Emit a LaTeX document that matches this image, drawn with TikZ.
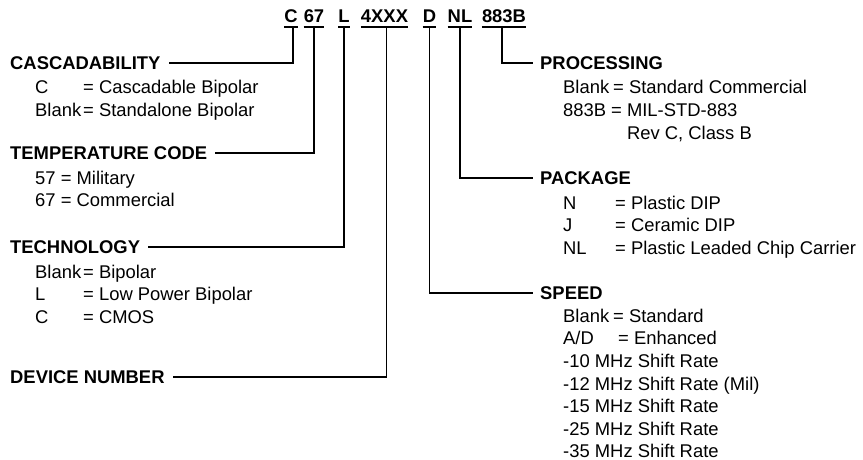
\documentclass[tikz,border=0pt]{standalone}
\usepackage{fontspec}
\setmainfont{Liberation Sans}
\usetikzlibrary{positioning}

% key column, then "= value"
\newcommand{\kv}[3][48pt]{\makebox[#1][l]{#2}= #3}

\tikzset{
  head/.style={font=\bfseries\fontsize{18.4}{22}\selectfont, inner sep=0pt, anchor=west},
  codepart/.style={font=\bfseries\fontsize{18.4}{22}\selectfont, inner sep=0pt, anchor=base},
  item/.style={font=\fontsize{18.4}{22}\selectfont, inner sep=0pt, anchor=base west},
  lead/.style={line width=1.4pt}
}

\begin{document}
\begin{tikzpicture}[x=1pt,y=-1pt]
    \useasboundingbox (0,0) rectangle (863,460);

    % Part number, each field underlined
    \node[codepart] (cc) at (291,23) {C};
    \node[codepart] (ct) at (314,23) {67};
    \node[codepart] (cl) at (344,23) {L};
    \node[codepart] (cd) at (384.5,23) {4XXX};
    \node[codepart] (cs) at (429.5,23) {D};
    \node[codepart] (cp) at (460,23) {NL};
    \node[codepart] (cq) at (504,23) {883B};
    \foreach \n in {cc,ct,cl,cd,cs,cp,cq}
        \draw[lead] ([yshift=-4pt]\n.base west) -- ([yshift=-4pt]\n.base east);

    % Left column
    \node[head] (cas) at (10,63) {CASCADABILITY};
    \node[item] (cas1) at (35,94) {\kv{C}{Cascadable Bipolar}};
    \node[item] (cas2) at (35,116.6) {\kv{Blank}{Standalone Bipolar}};

    \node[head] (tmp) at (10,153) {TEMPERATURE CODE};
    \node[item] (tmp1) at (35,184) {57 = Military};
    \node[item] (tmp2) at (35,206.6) {67 = Commercial};

    \node[head] (tec) at (10,247) {TECHNOLOGY};
    \node[item] (tec1) at (35,278) {\kv{Blank}{Bipolar}};
    \node[item] (tec2) at (35,300.6) {\kv{L}{Low Power Bipolar}};
    \node[item] (tec3) at (35,323.2) {\kv{C}{CMOS}};

    \node[head] (dev) at (10,377) {DEVICE NUMBER};

    % Right column
    \node[head] (pro) at (540,63) {PROCESSING};
    \node[item] (pro1) at (563,94) {\kv[50pt]{Blank}{Standard Commercial}};
    \node[item] (pro2) at (563,116.6) {\kv[48pt]{883B}{MIL-STD-883}};
    \node[item] (pro3) at (563,139.2) {\makebox[48pt]{}\phantom{= }Rev C, Class B};

    \node[head] (pac) at (540,178) {PACKAGE};
    \node[item] (pac1) at (563,209) {\kv[52pt]{N}{Plastic DIP}};
    \node[item] (pac2) at (563,231.6) {\kv[52pt]{J}{Ceramic DIP}};
    \node[item] (pac3) at (563,254.2) {\kv[52pt]{NL}{Plastic Leaded Chip Carrier}};

    \node[head] (spd) at (540,293) {SPEED};
    \node[item] (spd1) at (563,322.2) {\kv[50pt]{Blank}{Standard}};
    \node[item] (spd2) at (563,344.8) {\kv[55pt]{A/D}{Enhanced}};
    \foreach \r [count=\i from 3] in {-10 MHz Shift Rate, -12 MHz Shift Rate (Mil), -15 MHz Shift Rate, -25 MHz Shift Rate, -35 MHz Shift Rate}
        \node[item] (spd\i) at (563,322.2+22.6*\i-22.6) {\r};

    % Leaders from the fields to their headings
    \draw[lead] ([xshift=2pt,yshift=-4pt]cc.base) |- ([xshift=8pt]cas.east);
    \draw[lead] ([yshift=-4pt]ct.base) |- ([xshift=8pt]tmp.east);
    \draw[lead] ([yshift=-4pt]cl.base) |- ([xshift=8pt]tec.east);
    \draw[lead] ([xshift=2pt,yshift=-4pt]cd.base) |- ([xshift=8pt]dev.east);
    \draw[lead] ([yshift=-4pt]cs.base) |- ([xshift=-7pt]spd.west);
    \draw[lead] ([yshift=-4pt]cp.base) |- ([xshift=-7pt]pac.west);
    \draw[lead] ([xshift=-2pt,yshift=-4pt]cq.base) |- ([xshift=-7pt]pro.west);
\end{tikzpicture}
\end{document}
